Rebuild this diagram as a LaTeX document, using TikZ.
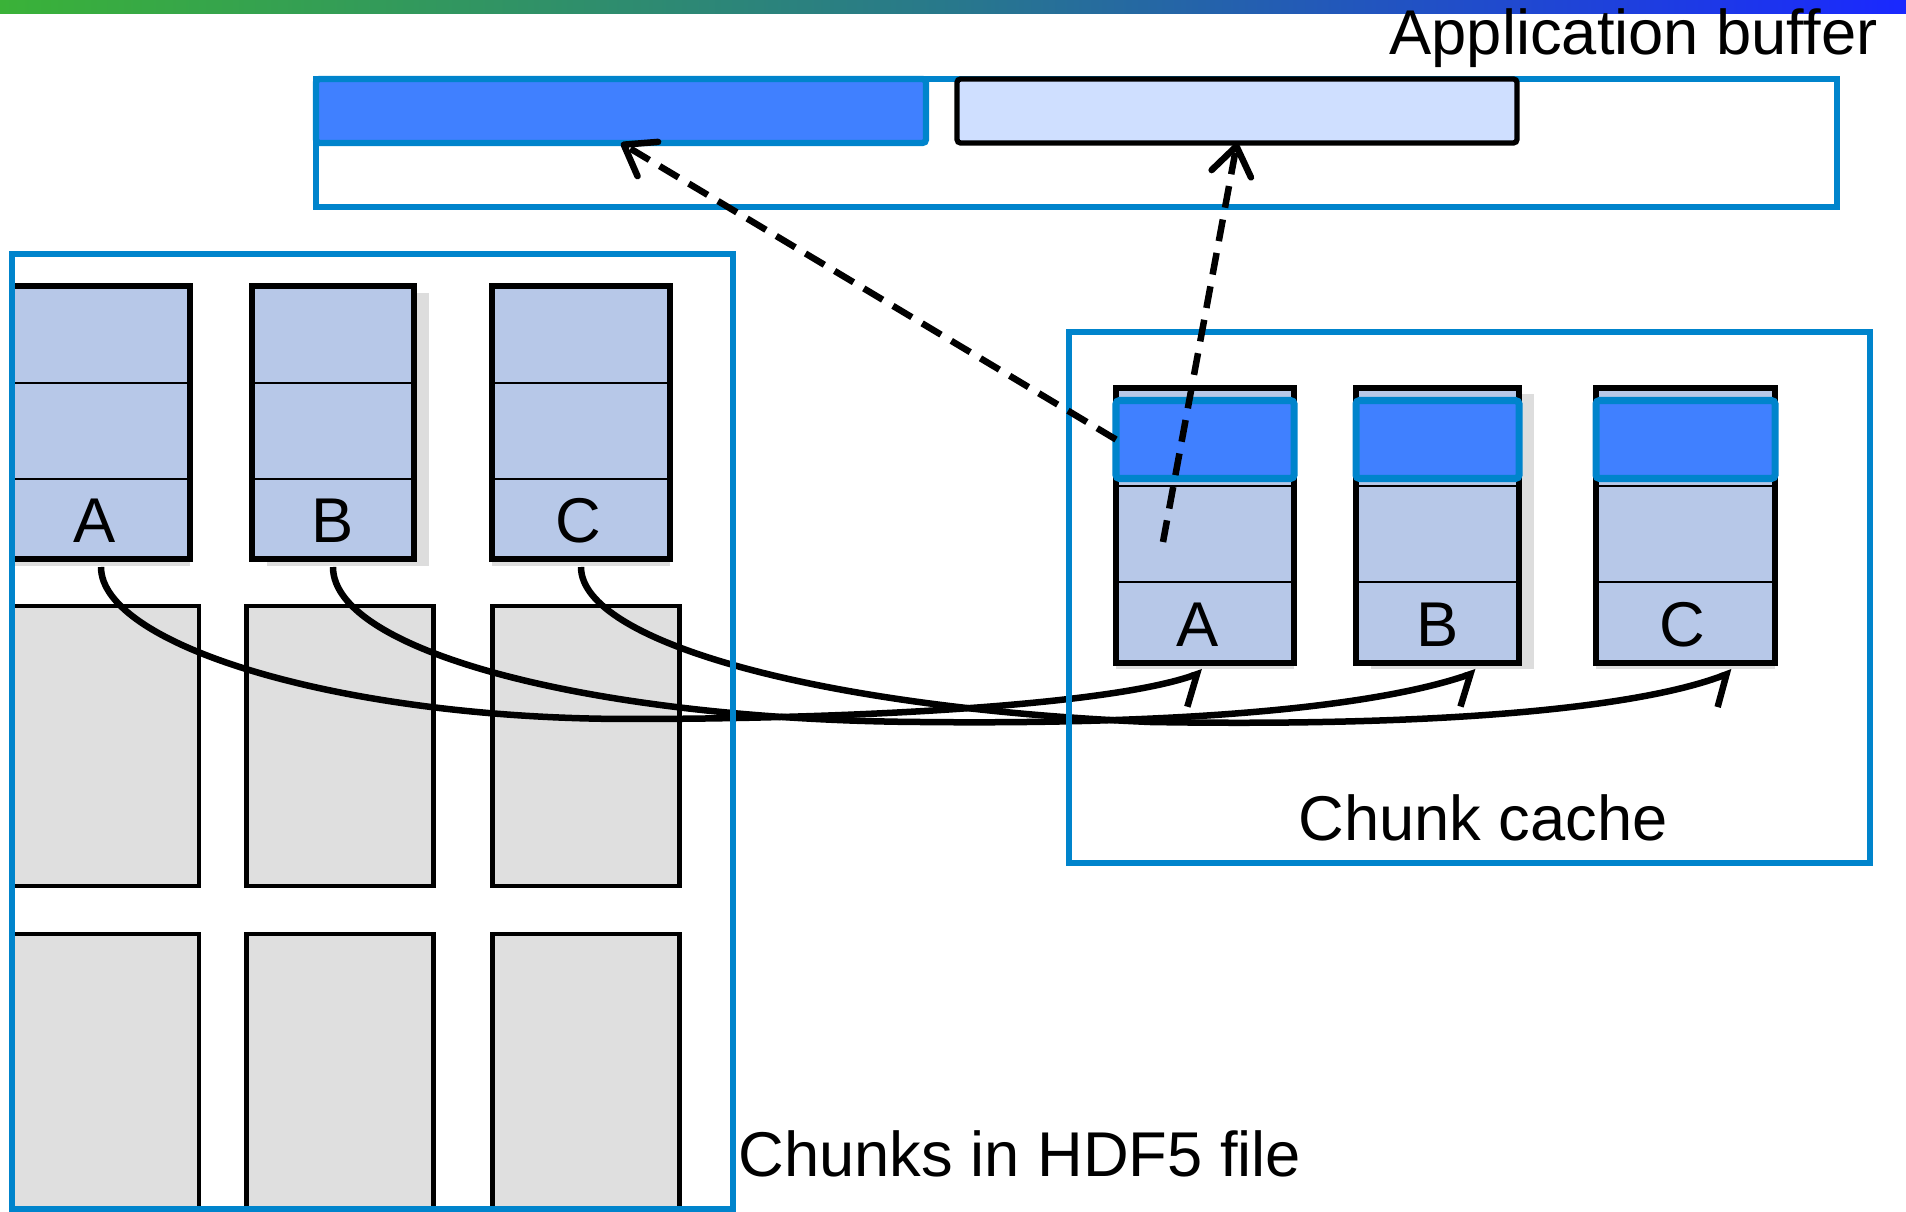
\documentclass[tikz,border=0pt]{standalone}
\usepackage{fontspec}
\setmainfont{Liberation Sans}
\usetikzlibrary{arrows.meta}

\definecolor{frameblue}{RGB}{0,132,204}
\definecolor{bandblue}{RGB}{64,128,255}
\definecolor{chunkfill}{RGB}{183,200,232}
\definecolor{barfill}{RGB}{207,223,255}
\definecolor{greyfill}{RGB}{223,223,223}
\definecolor{shadowgrey}{RGB}{221,221,221}
\definecolor{topgreen}{RGB}{58,178,56}
\definecolor{topmid}{RGB}{40,120,140}
\definecolor{topblue}{RGB}{26,40,255}

\tikzset{
	bluebox/.style={draw=frameblue,line width=1.8pt,inner sep=0pt,outer sep=0pt},
	bufbar/.style={line width=1.8pt,inner sep=0pt,outer sep=0pt,rounded corners=1pt},
	chunk/.style={draw,line width=1.5pt,fill=chunkfill,inner sep=0pt,outer sep=0pt},
	greychunk/.style={draw,line width=1.2pt,fill=greyfill,inner sep=0pt,outer sep=0pt,minimum width=18.7mm},
	chunkshadow/.style={fill=shadowgrey,inner sep=0pt,outer sep=0pt},
	band/.style={draw=frameblue,fill=bandblue,line width=2pt,inner sep=0pt,outer sep=0pt,rounded corners=1pt,minimum height=7.8mm},
	divider/.style={line width=0.6pt},
	curve/.style={line width=0.65mm,-{Straight Barb[right,length=2mm,width=5.5mm]}},
	dasharrow/.style={line width=0.65mm,dash pattern=on 2.2mm off 1.2mm,-{Straight Barb[round,length=2.8mm,width=4mm]}},
	txt/.style={font=\fontsize{18pt}{22pt}\selectfont,inner sep=0pt}
}

\begin{document}
\begin{tikzpicture}[x=0.1mm,y=-0.1mm]
		\clip (0,0) rectangle (1906,1212);
	
		% draw gradient strip at the top
		\shade[left color=topgreen,right color=topblue,middle color=topmid] (0,0) rectangle (1906,14);
	
		% draw application buffer
		\node (buf) at (1076.5,143) [bluebox,minimum width=152.1mm,minimum height=12.8mm] {};
		\node (bar-dark) at (621,111) [bufbar,fill=bandblue,draw=frameblue,minimum width=61mm,minimum height=6.4mm] {};
		\node (bar-light) at (1237,111) [bufbar,fill=barfill,draw=black,line width=1.5pt,minimum width=56mm,minimum height=6.4mm] {};
	
		% draw lower rows of chunks in the file
		\foreach \x/\cx in {0/105.5,1/340,2/586}
		{
			\node (g-\x-1) at (\cx,746) [greychunk,minimum height=28mm] {};
			\node (g-\x-2) at (\cx,1087) [greychunk,minimum height=30.6mm] {};
		}
	
		% draw top row of chunks in the file
		\foreach \n/\cx/\w/\s/\lx in {A/101/178/0/-6,B/333/162/15/0,C/581/178/0/-3}
		{
			\node at (\cx+\s,429.5) [chunkshadow,minimum width=\w*0.1mm,minimum height=27.3mm] {};
			\node (f-\n) at (\cx,422.5) [chunk,minimum width=\w*0.1mm,minimum height=27.3mm] {};
			\draw[divider] ([yshift=-9.7mm]f-\n.north west) -- ([yshift=-9.7mm]f-\n.north east);
			\draw[divider] ([yshift=8mm]f-\n.south west) -- ([yshift=8mm]f-\n.south east);
			\node (fl-\n) at (\cx+\lx,521) [txt] {\n};
		}
	
		% draw chunks held in the cache
		\foreach \n/\cx/\w/\s/\lx in {A/1205/178/0/-7,B/1437.5/163/15/0,C/1685.5/179/0/-3}
		{
			\node at (\cx+\s,531.5) [chunkshadow,minimum width=\w*0.1mm,minimum height=27.5mm] {};
			\node (c-\n) at (\cx,525.5) [chunk,minimum width=\w*0.1mm,minimum height=27.5mm] {};
			\draw[divider] ([yshift=-9.8mm]c-\n.north west) -- ([yshift=-9.8mm]c-\n.north east);
			\draw[divider] ([yshift=8.1mm]c-\n.south west) -- ([yshift=8.1mm]c-\n.south east);
			\node (band-\n) at (\cx,439.5) [band,minimum width=\w*0.1mm] {};
			\node (cl-\n) at (\cx+\lx,624.5) [txt] {\n};
		}
	
		% draw curves from file chunks to cache chunks
		\draw[curve] ([yshift=-0.8mm]f-A.south) .. controls +(0,78) and +(-290,0) .. (630,719)
			.. controls +(230,0) and +(-93,33) .. ([shift={(-0.2mm,-0.9mm)}]c-A.south);
		\draw[curve] ([yshift=-0.8mm]f-B.south) .. controls +(0,86) and +(-320,-2) .. (920,722)
			.. controls +(280,3) and +(-96,33) .. ([shift={(3.9mm,-0.9mm)}]c-B.south);
		\draw[curve] ([yshift=-0.8mm]f-C.south) .. controls +(0,75) and +(-330,-14) .. (1150,722)
			.. controls +(300,5) and +(-92,35) .. ([shift={(4.7mm,-0.9mm)}]c-C.south);
	
		% draw frames of file and cache
		\node (file) at (372.5,731.5) [bluebox,minimum width=72.1mm,minimum height=95.5mm] {};
		\node (cache) at (1469.5,597.5) [bluebox,minimum width=80.1mm,minimum height=53.1mm] {};
	
		% draw dashed arrows from cache to buffer
		\draw[dasharrow] (band-A.west) -- (bar-dark.south);
		\draw[dasharrow] ([shift={(-4.2mm,-1.65mm)}]c-A.center) -- (bar-light.south);
	
		% draw texts
		\node (buflabel) at (1878,55) [txt,anchor=base east] {Application buffer};
		\node (cachelabel) at (1483,841) [txt,anchor=base] {Chunk cache};
		\node (filelabel) at (738,1176) [txt,anchor=base west] {Chunks in HDF5 file};
	\end{tikzpicture}
\end{document}
